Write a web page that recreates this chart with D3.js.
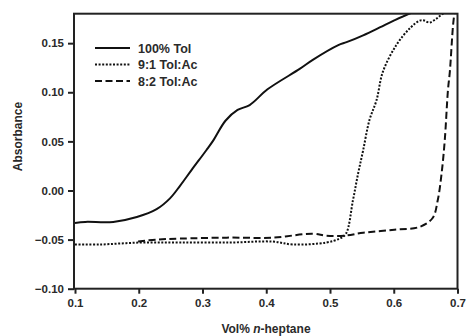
<!DOCTYPE html>
<html>
<head>
<meta charset="utf-8">
<script src="https://cdn.jsdelivr.net/npm/d3@7"></script>
<style>
  body { margin: 0; background: #fff; }
  text { font-family: "Liberation Sans", Arial, sans-serif; font-weight: bold; fill: #2a2a2a; }
</style>
</head>
<body>
<div id="chart"></div>
<script>
// data (x = vol fraction n-heptane, y = absorbance)
var tolX = [0.100, 0.116, 0.160, 0.197, 0.228, 0.249, 0.265, 0.283, 0.306, 0.317, 0.336, 0.355, 0.374, 0.402, 0.453, 0.473, 0.513, 0.526, 0.552, 0.578, 0.600, 0.628, 0.660];
var tolY = [-0.033, -0.032, -0.032, -0.027, -0.019, -0.008, 0.005, 0.021, 0.041, 0.051, 0.071, 0.082, 0.087, 0.103, 0.124, 0.133, 0.148, 0.151, 0.158, 0.166, 0.173, 0.181, 0.188];

var tolAc91X = [0.100, 0.139, 0.202, 0.265, 0.343, 0.410, 0.442, 0.494, 0.515, 0.525, 0.536, 0.544, 0.552, 0.562, 0.573, 0.583, 0.604, 0.625, 0.641, 0.648, 0.656, 0.667, 0.680, 0.700];
var tolAc91Y = [-0.055, -0.055, -0.053, -0.053, -0.053, -0.052, -0.055, -0.053, -0.049, -0.044, -0.010, 0.017, 0.041, 0.072, 0.092, 0.121, 0.148, 0.165, 0.173, 0.173, 0.171, 0.175, 0.181, 0.183];

var tolAc82X = [0.199, 0.228, 0.265, 0.338, 0.410, 0.473, 0.494, 0.523, 0.552, 0.601, 0.641, 0.661, 0.669, 0.675, 0.680, 0.685, 0.688, 0.693, 0.696];
var tolAc82Y = [-0.052, -0.050, -0.049, -0.048, -0.048, -0.044, -0.046, -0.046, -0.043, -0.040, -0.037, -0.028, -0.010, 0.017, 0.051, 0.102, 0.121, 0.168, 0.185];

var xTicks = [0.1, 0.2, 0.3, 0.4, 0.5, 0.6, 0.7];
var yTicks = [-0.10, -0.05, 0.00, 0.05, 0.10, 0.15];
var seriesNames = ["100% Tol", "9:1 Tol:Ac", "8:2 Tol:Ac"];

var svgWidth = 467;
var svgHeight = 336;
var margin = { top: 13.7, right: 9.5, bottom: 47.3, left: 74 };
var width = svgWidth - margin.left - margin.right;
var height = svgHeight - margin.top - margin.bottom;

var svg = d3.select("#chart").append("svg")
    .attr("width", svgWidth)
    .attr("height", svgHeight);

var g = svg.append("g")
    .attr("transform", `translate(${margin.left}, ${margin.top})`);

var x = d3.scaleLinear().domain([0.1, 0.7]).range([1, width]);
var y = d3.scaleLinear().domain([-0.10, 0.18]).range([height, 0]);

g.append("clipPath").attr("id", "plot")
  .append("rect").attr("width", width).attr("height", height);

function zip(xs, ys) { return xs.map((v, i) => [v, ys[i]]); }

var series = [
  { name: seriesNames[0], pts: zip(tolX, tolY), dash: null },
  { name: seriesNames[1], pts: zip(tolAc91X, tolAc91Y), dash: "2,1.6" },
  { name: seriesNames[2], pts: zip(tolAc82X, tolAc82Y), dash: "7,3.5" }
];

var line = d3.line()
    .x(d => x(d[0]))
    .y(d => y(d[1]))
    .curve(d3.curveCatmullRom.alpha(0.5));

g.append("g").attr("clip-path", "url(#plot)")
  .selectAll("path")
  .data(series)
  .enter()
  .append("path")
  .attr("d", d => line(d.pts))
  .attr("fill", "none")
  .attr("stroke", "#111")
  .attr("stroke-width", 2)
  .attr("stroke-dasharray", d => d.dash);

// frame
g.append("rect")
  .attr("width", width).attr("height", height)
  .attr("fill", "none").attr("stroke", "#222").attr("stroke-width", 2);

// axes
var xAxis = g.append("g")
    .attr("transform", "translate(0," + height + ")")
    .call(d3.axisBottom(x).tickValues(xTicks).tickFormat(d3.format(".1f")).tickSize(5).tickPadding(5));
var yAxis = g.append("g")
    .call(d3.axisLeft(y).tickValues(yTicks).tickFormat(d3.format(".2f")).tickSize(6).tickPadding(4));

[xAxis, yAxis].forEach(function (a) {
  a.select(".domain").remove();
  a.selectAll(".tick line").attr("stroke", "#222").attr("stroke-width", 2);
  a.selectAll(".tick text").style("font-size", "11.5px").attr("fill", "#2a2a2a");
});

// axis titles
svg.append("text")
  .attr("transform", "translate(22," + (margin.top + y(0.055)) + ") rotate(-90)")
  .attr("text-anchor", "middle")
  .style("font-size", "12px")
  .text("Absorbance");

var xt = svg.append("text")
  .attr("x", 266).attr("y", 332.5)
  .attr("text-anchor", "middle")
  .style("font-size", "12px");
xt.append("tspan").text("Vol% ");
xt.append("tspan").style("font-style", "italic").text("n");
xt.append("tspan").text("-heptane");

// legend
var legend = svg.append("g").attr("transform", "translate(95,48)");
var items = legend.selectAll("g")
  .data(series)
  .enter()
  .append("g")
  .attr("transform", (d, i) => "translate(0," + i * 16.5 + ")");
items.append("line")
  .attr("x1", 0).attr("x2", 35)
  .attr("stroke", "#111").attr("stroke-width", 2)
  .attr("stroke-dasharray", d => d.dash);
items.append("text")
  .attr("x", 43).attr("y", 4.5)
  .style("font-size", "12.5px")
  .text(d => d.name);
</script>
</body>
</html>
